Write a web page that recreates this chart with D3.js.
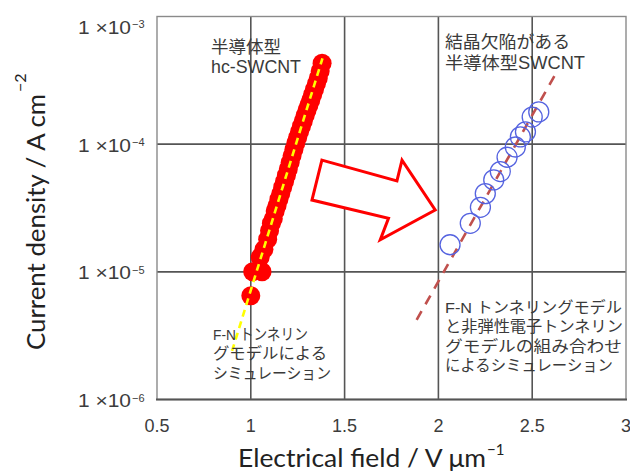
<!DOCTYPE html>
<html>
<head>
<meta charset="utf-8">
<script src="https://cdn.jsdelivr.net/npm/d3@7"></script>
<style>
  body { margin: 0; background: #fff; }
  svg { display: block; }
</style>
</head>
<body>
<svg id="chart" width="630" height="472"></svg>
<script>
// axis ticks
var xTicks = [0.5, 1, 1.5, 2, 2.5, 3];
var yTicks = [1e-3, 1e-4, 1e-5, 1e-6];
var yTickExp = ["\u22123", "\u22124", "\u22125", "\u22126"];

// semiconducting hc-SWCNT (red filled circles)
var redField = [1.00, 1.01, 1.06, 1.05, 1.07, 1.09, 1.10, 1.11, 1.12, 1.13, 1.14, 1.15,
                1.16, 1.17, 1.18, 1.19, 1.20, 1.21, 1.22, 1.23, 1.24, 1.25, 1.26, 1.27,
                1.28, 1.29, 1.30, 1.31, 1.32, 1.33, 1.34, 1.35, 1.36, 1.37, 1.38];
var redCurrent = [6.5e-6, 1.0e-5, 1.0e-5, 1.3e-5, 1.5e-5, 1.8e-5, 2.1e-5, 2.4e-5, 2.6e-5, 3.0e-5, 3.3e-5, 3.7e-5,
                  4.1e-5, 4.6e-5, 5.1e-5, 5.7e-5, 6.4e-5, 7.2e-5, 8.1e-5, 9.1e-5, 1.02e-4, 1.13e-4, 1.25e-4, 1.38e-4,
                  1.52e-4, 1.68e-4, 1.85e-4, 2.03e-4, 2.22e-4, 2.45e-4, 2.70e-4, 2.98e-4, 3.3e-4, 3.75e-4, 4.3e-4];

// defective semiconducting SWCNT (blue open circles)
var blueField = [2.062, 2.170, 2.224, 2.250, 2.295, 2.330, 2.366, 2.410, 2.437, 2.464, 2.500, 2.535];
var blueCurrent = [1.63e-5, 2.4e-5, 3.2e-5, 4.1e-5, 5.25e-5, 6.1e-5, 7.9e-5, 9.5e-5, 1.14e-4, 1.25e-4, 1.63e-4, 1.79e-4];

// simulation lines
var fnField = [0.90, 1.382];
var fnCurrent = [2.4e-6, 4.7e-4];
var inelField = [1.884, 2.627];
var inelCurrent = [4.2e-6, 3.6e-4];

// block arrow outline, in data units
var arrowField = [1.379, 1.779, 1.806, 1.983, 1.690, 1.734, 1.326];
var arrowCurrent = [7.5e-5, 5.16e-5, 7.5e-5, 3.05e-5, 1.78e-5, 2.63e-5, 3.65e-5];

// annotation texts
var noteRed = ["半導体型", "hc-SWCNT"];
var noteBlue = ["結晶欠陥がある", "半導体型SWCNT"];
var noteFN = ["F-N トンネリン", "グモデルによる", "シミュレーション"];
var noteInel = ["F-N トンネリングモデル", "と非弾性電子トンネリン", "グモデルの組み合わせ", "によるシミュレーション"];

var svg = d3.select("#chart");

var x = d3.scaleLinear().domain([0.5, 3]).range([157, 626]);
var y = d3.scaleLog().domain([1e-6, 1e-3]).range([399.5, 16.5]);

var tickFont = "'Liberation Sans', Arial, sans-serif";
var titleFont = "Lato, 'Open Sans', sans-serif";
var noteFont = "'Liberation Sans', 'Noto Sans CJK JP', sans-serif";

drawGrid();
drawSeries();
drawArrow();
drawLabels();
drawNotes();

function drawGrid() {
    var grid = svg.append("g");
    grid.selectAll("line.vx")
        .data(xTicks.slice(1, -1))
        .enter().append("line")
        .attr("x1", function(d) { return x(d); })
        .attr("x2", function(d) { return x(d); })
        .attr("y1", y(1e-3))
        .attr("y2", y(1e-6))
        .attr("stroke", "#555")
        .attr("stroke-width", 1.6);

    grid.selectAll("line.hy")
        .data(yTicks.slice(1, -1))
        .enter().append("line")
        .attr("x1", x(0.5))
        .attr("x2", x(3))
        .attr("y1", function(d) { return y(d); })
        .attr("y2", function(d) { return y(d); })
        .attr("stroke", "#555")
        .attr("stroke-width", 1.6);

    // frame
    grid.append("rect")
        .attr("x", x(0.5))
        .attr("y", y(1e-3))
        .attr("width", x(3) - x(0.5))
        .attr("height", y(1e-6) - y(1e-3))
        .attr("fill", "none")
        .attr("stroke", "#8a8a8a")
        .attr("stroke-width", 1.4);

    grid.append("line")
        .attr("x1", x(0.5) - 1)
        .attr("x2", x(3) + 1)
        .attr("y1", y(1e-6))
        .attr("y2", y(1e-6))
        .attr("stroke", "#555")
        .attr("stroke-width", 2.2);
}

function drawSeries() {
    var line = d3.line()
        .x(function(d) { return x(d[0]); })
        .y(function(d) { return y(d[1]); });

    // inelastic-tunnelling simulation (dashed dark red)
    svg.append("path")
        .datum(d3.zip(inelField, inelCurrent))
        .attr("d", line)
        .attr("fill", "none")
        .attr("stroke", "#c0504d")
        .attr("stroke-width", 2.6)
        .attr("stroke-dasharray", "10,8");

    svg.append("g").selectAll("circle")
        .data(d3.zip(blueField, blueCurrent))
        .enter().append("circle")
        .attr("cx", function(d) { return x(d[0]); })
        .attr("cy", function(d) { return y(d[1]); })
        .attr("r", 10)
        .attr("fill", "none")
        .attr("stroke", "#5563e0")
        .attr("stroke-width", 1.3);

    svg.append("g").selectAll("circle")
        .data(d3.zip(redField, redCurrent))
        .enter().append("circle")
        .attr("cx", function(d) { return x(d[0]); })
        .attr("cy", function(d) { return y(d[1]); })
        .attr("r", 9.5)
        .attr("fill", "#ff0000");

    // F-N simulation (dashed yellow)
    svg.append("path")
        .datum(d3.zip(fnField, fnCurrent))
        .attr("d", line)
        .attr("fill", "none")
        .attr("stroke", "#ffff00")
        .attr("stroke-width", 2.6)
        .attr("stroke-dasharray", "7,5");
}

function drawArrow() {
    var pts = d3.zip(arrowField, arrowCurrent).map(function(d) {
        return [x(d[0]), y(d[1])];
    });
    svg.append("path")
        .attr("d", "M" + pts.join("L") + "Z")
        .attr("fill", "#fff")
        .attr("stroke", "#ff0000")
        .attr("stroke-width", 3)
        .attr("stroke-linejoin", "miter");
}

function drawLabels() {
    // x tick labels
    svg.append("g").selectAll("text")
        .data(xTicks)
        .enter().append("text")
        .attr("x", function(d) { return x(d); })
        .attr("y", 432)
        .attr("text-anchor", "middle")
        .attr("font-family", tickFont)
        .attr("font-size", 18)
        .attr("fill", "#3c3c3c")
        .text(function(d) { return d3.format("")(d); });

    // y tick labels: "1 ×10" with a raised exponent
    var yl = svg.append("g").selectAll("g")
        .data(yTicks)
        .enter().append("g")
        .attr("transform", function(d) {
            return "translate(0," + Math.max(y(d), 26) + ")";
        });
    yl.append("text")
        .attr("x", 78)
        .attr("y", 7.5)
        .attr("font-family", tickFont)
        .attr("font-size", 18)
        .attr("fill", "#3c3c3c")
        .attr("textLength", 53)
        .attr("lengthAdjust", "spacingAndGlyphs")
        .text("1 \u00d710");
    yl.append("text")
        .attr("x", 132)
        .attr("y", 2)
        .attr("font-family", tickFont)
        .attr("font-size", 11)
        .attr("fill", "#3c3c3c")
        .text(function(d, i) { return yTickExp[i]; });

    // x title
    svg.append("text")
        .attr("x", 238)
        .attr("y", 467)
        .attr("font-family", titleFont)
        .attr("font-size", 25)
        .attr("fill", "#222")
        .attr("textLength", 248)
        .attr("lengthAdjust", "spacingAndGlyphs")
        .text("Electrical field / V \u03bcm");
    svg.append("text")
        .attr("x", 487)
        .attr("y", 455)
        .attr("font-family", titleFont)
        .attr("font-size", 15)
        .attr("fill", "#222")
        .text("\u22121");

    // y title
    var yt = svg.append("g").attr("transform", "translate(45,350) rotate(-90)");
    yt.append("text")
        .attr("x", 0)
        .attr("y", 0)
        .attr("font-family", titleFont)
        .attr("font-size", 25)
        .attr("fill", "#222")
        .attr("textLength", 256)
        .attr("lengthAdjust", "spacingAndGlyphs")
        .text("Current density / A cm");
    yt.append("text")
        .attr("x", 258)
        .attr("y", -19)
        .attr("font-family", titleFont)
        .attr("font-size", 16)
        .attr("fill", "#222")
        .text("\u22122");
}

function drawNotes() {
    addNote(noteRed, 211, [46.5, 67], [70, 90], 17.5);
    addNote(noteBlue, 445, [41.7, 63.3], [125, 140], 17.5);
    addNote(noteFN, 213, [334, 353.5, 373], [95, 114, 118], 15.5);
    addNote(noteInel, 445, [307, 326.5, 346, 365.5], [177, 178, 177, 168], 15.5);

    function addNote(lines, left, centers, widths, size) {
        svg.append("g").selectAll("text")
            .data(lines)
            .enter().append("text")
            .attr("x", left)
            .attr("y", function(d, i) { return centers[i]; })
            .attr("dominant-baseline", "central")
            .attr("font-family", noteFont)
            .attr("font-size", size)
            .attr("fill", "#3a3a3a")
            .attr("textLength", function(d, i) { return widths[i]; })
            .attr("lengthAdjust", "spacingAndGlyphs")
            .text(function(d) { return d; });
    }
}
</script>
</body>
</html>
